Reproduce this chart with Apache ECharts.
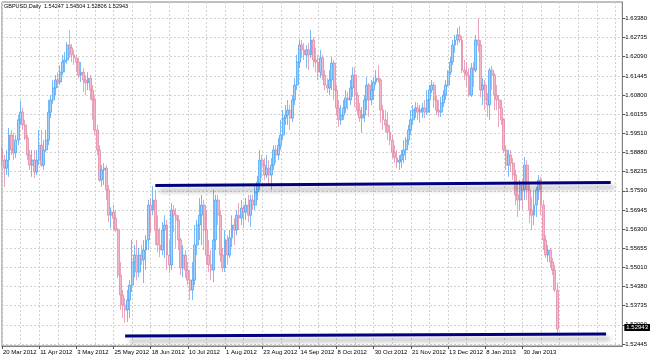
<!DOCTYPE html>
<html><head><meta charset="utf-8">
<script src="https://cdn.jsdelivr.net/npm/echarts@6/dist/echarts.min.js"></script>
<style>html,body{margin:0;padding:0;background:#fff}#c{width:650px;height:357px}</style>
</head><body><div id="c"></div>
<script>
const symbolName = 'GBPUSD,Daily';
const startDate = '2012-03-20';
const holidays = ['2012-12-25', '2013-01-01'];
const categoryCount = 268;

const open = [
1.5896,1.5862,1.5835,1.5862,1.5946,1.5896,1.5886,1.5929,1.5997,1.6023,
1.5980,1.5936,1.5879,1.5845,1.5862,1.5822,1.5862,1.5912,1.5845,1.5896,
1.5929,1.6023,1.6064,1.6104,1.6131,1.6124,1.6157,1.6191,1.6198,1.6248,
1.6239,1.6215,1.6205,1.6191,1.6147,1.6157,1.6131,1.6121,1.6137,1.6097,
1.6064,1.5963,1.5896,1.5795,1.5829,1.5835,1.5762,1.5677,1.5687,1.5667,
1.5627,1.5476,1.5409,1.5375,1.5359,1.5392,1.5442,1.5520,1.5543,1.5486,
1.5543,1.5527,1.5560,1.5594,1.5711,1.5694,1.5728,1.5627,1.5577,1.5560,
1.5627,1.5644,1.5543,1.5510,1.5694,1.5677,1.5661,1.5594,1.5500,1.5543,
1.5493,1.5459,1.5426,1.5459,1.5577,1.5644,1.5677,1.5711,1.5627,1.5543,
1.5510,1.5493,1.5594,1.5728,1.5677,1.5543,1.5500,1.5594,1.5543,1.5601,
1.5644,1.5627,1.5677,1.5667,1.5701,1.5687,1.5711,1.5677,1.5728,1.5711,
1.5755,1.5788,1.5862,1.5845,1.5812,1.5835,1.5812,1.5845,1.5896,1.5879,
1.5912,1.5946,1.6003,1.6013,1.6030,1.6003,1.6064,1.6114,1.6191,1.6248,
1.6232,1.6215,1.6232,1.6215,1.6265,1.6198,1.6191,1.6157,1.6205,1.6147,
1.6114,1.6104,1.6131,1.6188,1.6097,1.6037,1.5997,1.6013,1.6037,1.6070,
1.6064,1.6104,1.6147,1.6080,1.6030,1.6003,1.6013,1.6064,1.6114,1.6064,
1.6097,1.6124,1.6137,1.6131,1.6030,1.5997,1.5980,1.5956,1.5929,1.5889,
1.5869,1.5855,1.5862,1.5879,1.5896,1.5929,1.5963,1.5997,1.6030,1.6037,
1.6023,1.6030,1.6037,1.6023,1.6064,1.6097,1.6114,1.6064,1.6030,1.6023,
1.6054,1.6080,1.6114,1.6157,1.6191,1.6248,1.6265,1.6282,1.6265,1.6164,
1.6157,1.6147,1.6080,1.6171,1.6164,1.6265,1.6248,1.6097,1.6114,1.6064,
1.6047,1.6164,1.6147,1.6080,1.6064,1.6037,1.5997,1.5896,1.5845,1.5879,
1.5852,1.5812,1.5745,1.5728,1.5778,1.5762,1.5845,1.5762,1.5694,1.5677,
1.5711,1.5762,1.5795,1.5711,1.5594,1.5543,1.5560,1.5520,1.5493,1.54247
];
const high = [
1.5906,1.5879,1.5896,1.5970,1.5963,1.5953,1.5946,1.6013,1.6061,1.6037,
1.5997,1.5946,1.5896,1.5896,1.5896,1.5896,1.5963,1.5963,1.5929,1.5963,
1.6064,1.6080,1.6131,1.6147,1.6157,1.6181,1.6215,1.6225,1.6258,1.6299,
1.6252,1.6232,1.6215,1.6205,1.6191,1.6171,1.6147,1.6157,1.6147,1.6114,
1.6080,1.5980,1.5912,1.5845,1.5852,1.5845,1.5778,1.5704,1.5711,1.5694,
1.5634,1.5520,1.5426,1.5399,1.5426,1.5459,1.5594,1.5577,1.5594,1.5567,
1.5577,1.5594,1.5610,1.5728,1.5735,1.5775,1.5762,1.5677,1.5634,1.5654,
1.5677,1.5661,1.5594,1.5718,1.5711,1.5701,1.5677,1.5601,1.5577,1.5560,
1.5520,1.5493,1.5520,1.5644,1.5661,1.5735,1.5745,1.5728,1.5694,1.5594,
1.5560,1.5762,1.5745,1.5745,1.5694,1.5567,1.5627,1.5610,1.5627,1.5677,
1.5667,1.5694,1.5718,1.5728,1.5711,1.5735,1.5745,1.5745,1.5745,1.5778,
1.5809,1.5896,1.5879,1.5869,1.5879,1.5862,1.5869,1.5912,1.5912,1.5936,
1.5997,1.6030,1.6047,1.6064,1.6047,1.6080,1.6137,1.6215,1.6265,1.6265,
1.6255,1.6248,1.6255,1.6299,1.6275,1.6238,1.6215,1.6232,1.6215,1.6164,
1.6137,1.6164,1.6208,1.6198,1.6114,1.6064,1.6047,1.6064,1.6097,1.6090,
1.6131,1.6174,1.6174,1.6090,1.6054,1.6040,1.6080,1.6141,1.6121,1.6131,
1.6141,1.6164,1.6181,1.6137,1.6047,1.6030,1.6023,1.5980,1.5946,1.5912,
1.5896,1.5879,1.5896,1.5929,1.5939,1.5980,1.6030,1.6047,1.6057,1.6054,
1.6047,1.6054,1.6064,1.6097,1.6114,1.6131,1.6124,1.6080,1.6064,1.6074,
1.6097,1.6131,1.6164,1.6208,1.6265,1.6282,1.6305,1.6312,1.6279,1.6198,
1.6191,1.6171,1.6188,1.6191,1.6282,1.6339,1.6265,1.6137,1.6131,1.6087,
1.6171,1.6178,1.6154,1.6114,1.6080,1.6064,1.6003,1.5912,1.5896,1.5896,
1.5869,1.5829,1.5785,1.5795,1.5795,1.5872,1.5862,1.5785,1.5738,1.5762,
1.5772,1.5812,1.5806,1.5728,1.5610,1.5577,1.5567,1.5533,1.5510,1.54504
];
const low = [
1.5845,1.5772,1.5812,1.5806,1.5879,1.5862,1.5869,1.5912,1.5980,1.5963,
1.5929,1.5862,1.5829,1.5806,1.5802,1.5812,1.5845,1.5839,1.5829,1.5889,
1.5912,1.6003,1.6051,1.6080,1.6104,1.6114,1.6147,1.6157,1.6185,1.6205,
1.6191,1.6181,1.6157,1.6137,1.6124,1.6090,1.6080,1.6097,1.6064,1.5997,
1.5946,1.5879,1.5788,1.5772,1.5778,1.5728,1.5654,1.5634,1.5627,1.5620,
1.5466,1.5359,1.5332,1.5315,1.5318,1.5332,1.5419,1.5469,1.5459,1.5469,
1.5510,1.5449,1.5493,1.5560,1.5617,1.5677,1.5577,1.5553,1.5536,1.5543,
1.5533,1.5493,1.5483,1.5493,1.5620,1.5567,1.5560,1.5476,1.5469,1.5466,
1.5442,1.5392,1.5392,1.5442,1.5543,1.5594,1.5577,1.5560,1.5510,1.5486,
1.5459,1.5452,1.5560,1.5644,1.5520,1.5486,1.5486,1.5510,1.5533,1.5570,
1.5577,1.5610,1.5627,1.5644,1.5634,1.5661,1.5654,1.5638,1.5694,1.5694,
1.5728,1.5762,1.5802,1.5795,1.5802,1.5778,1.5762,1.5829,1.5852,1.5862,
1.5896,1.5929,1.5980,1.5980,1.5963,1.5990,1.6047,1.6097,1.6171,1.6205,
1.6198,1.6171,1.6164,1.6205,1.6174,1.6157,1.6131,1.6137,1.6131,1.6097,
1.6087,1.6080,1.6097,1.6064,1.6013,1.5973,1.5980,1.5997,1.6020,1.6030,
1.6047,1.6074,1.6040,1.6013,1.5990,1.5953,1.5990,1.6030,1.6007,1.6047,
1.6064,1.6114,1.6121,1.5987,1.5963,1.5953,1.5929,1.5912,1.5869,1.5852,
1.5835,1.5829,1.5835,1.5852,1.5862,1.5912,1.5946,1.5980,1.6003,1.5997,
1.5987,1.6003,1.6003,1.6013,1.6020,1.6087,1.6037,1.6013,1.6007,1.6007,
1.6040,1.6064,1.6108,1.6147,1.6181,1.6222,1.6248,1.6255,1.6154,1.6131,
1.6108,1.6074,1.6074,1.6108,1.6157,1.6225,1.6074,1.6047,1.6030,1.6007,
1.5997,1.6097,1.6030,1.6030,1.5973,1.5980,1.5886,1.5829,1.5806,1.5822,
1.5795,1.5711,1.5671,1.5694,1.5694,1.5728,1.5728,1.5651,1.5627,1.5644,
1.5671,1.5728,1.5677,1.5560,1.5533,1.5520,1.5500,1.5476,1.5419,1.52806
];
const close = [
1.5862,1.5835,1.5862,1.5946,1.5896,1.5886,1.5929,1.5997,1.6023,1.5980,
1.5936,1.5879,1.5845,1.5862,1.5822,1.5862,1.5912,1.5845,1.5896,1.5929,
1.6023,1.6064,1.6104,1.6131,1.6124,1.6157,1.6191,1.6198,1.6248,1.6239,
1.6215,1.6205,1.6191,1.6147,1.6157,1.6131,1.6121,1.6137,1.6097,1.6064,
1.5963,1.5896,1.5795,1.5829,1.5835,1.5762,1.5677,1.5687,1.5667,1.5627,
1.5476,1.5409,1.5375,1.5359,1.5392,1.5442,1.5520,1.5543,1.5486,1.5543,
1.5527,1.5560,1.5594,1.5711,1.5694,1.5728,1.5627,1.5577,1.5560,1.5627,
1.5644,1.5543,1.5510,1.5694,1.5677,1.5661,1.5594,1.5500,1.5543,1.5493,
1.5459,1.5426,1.5459,1.5577,1.5644,1.5677,1.5711,1.5627,1.5543,1.5510,
1.5493,1.5594,1.5728,1.5677,1.5543,1.5500,1.5594,1.5543,1.5601,1.5644,
1.5627,1.5677,1.5667,1.5701,1.5687,1.5711,1.5677,1.5728,1.5711,1.5755,
1.5788,1.5862,1.5845,1.5812,1.5835,1.5812,1.5845,1.5896,1.5879,1.5912,
1.5946,1.6003,1.6013,1.6030,1.6003,1.6064,1.6114,1.6191,1.6248,1.6232,
1.6215,1.6232,1.6215,1.6265,1.6198,1.6191,1.6157,1.6205,1.6147,1.6114,
1.6104,1.6131,1.6188,1.6097,1.6037,1.5997,1.6013,1.6037,1.6070,1.6064,
1.6104,1.6147,1.6080,1.6030,1.6003,1.6013,1.6064,1.6114,1.6064,1.6097,
1.6124,1.6137,1.6131,1.6030,1.5997,1.5980,1.5956,1.5929,1.5889,1.5869,
1.5855,1.5862,1.5879,1.5896,1.5929,1.5963,1.5997,1.6030,1.6037,1.6023,
1.6030,1.6037,1.6023,1.6064,1.6097,1.6114,1.6064,1.6030,1.6023,1.6054,
1.6080,1.6114,1.6157,1.6191,1.6248,1.6265,1.6282,1.6265,1.6164,1.6157,
1.6147,1.6080,1.6171,1.6164,1.6265,1.6248,1.6097,1.6114,1.6064,1.6047,
1.6164,1.6147,1.6080,1.6064,1.6037,1.5997,1.5896,1.5845,1.5879,1.5852,
1.5812,1.5745,1.5728,1.5778,1.5762,1.5845,1.5762,1.5694,1.5677,1.5711,
1.5762,1.5795,1.5711,1.5594,1.5543,1.5560,1.5520,1.5493,1.5426,1.52943
];

const yTicks = [1.63380,1.62735,1.62090,1.61445,1.60800,1.60155,1.59510,1.58880,1.58235,
                1.57590,1.56945,1.56300,1.55655,1.55010,1.54380,1.53735,1.53090,1.52445];
const xTickLabels = ['20 Mar 2012','11 Apr 2012','3 May 2012','25 May 2012','18 Jun 2012','10 Jul 2012',
  '1 Aug 2012','23 Aug 2012','14 Sep 2012','8 Oct 2012','30 Oct 2012','21 Nov 2012','13 Dec 2012',
  '8 Jan 2013','30 Jan 2013'];
const yMin = 1.52379, yMax = 1.63927;
const resistanceLine = [[66, 1.57767], [262, 1.57868]];
const supportLine = [[53, 1.52715], [260, 1.52782]];

const MONTHS = ['Jan','Feb','Mar','Apr','May','Jun','Jul','Aug','Sep','Oct','Nov','Dec'];
const dates = [];
(function () {
  const d = new Date(startDate + 'T00:00:00Z');
  while (dates.length < categoryCount) {
    const iso = d.toISOString().slice(0, 10);
    const wd = d.getUTCDay();
    if (wd !== 0 && wd !== 6 && holidays.indexOf(iso) < 0) {
      dates.push(d.getUTCDate() + ' ' + MONTHS[d.getUTCMonth()] + ' ' + d.getUTCFullYear());
    }
    d.setUTCDate(d.getUTCDate() + 1);
  }
})();

const candles = open.map((o, i) => [o, close[i], low[i], high[i]]);
const last = open.length - 1;
const lastPrice = close[last];
const titleText = symbolName + '  ' + [open[last], high[last], low[last], close[last]].map(v => v.toFixed(5)).join(' ');

const FONT = 'Liberation Sans';
const isTick = (i, v) => xTickLabels.indexOf(v) >= 0;
const gridLine = { color: '#d2d2d2', type: [2, 2], width: 1 };

const chart = echarts.init(document.getElementById('c'), null, { renderer: 'canvas' });
chart.setOption({
  animation: false,
  backgroundColor: '#ffffff',
  grid: { left: 2, right: 26, top: 2, bottom: 11, show: true, borderColor: '#808080', borderWidth: 1, backgroundColor: '#fff' },
  graphic: [{
    type: 'text', left: 4, top: 3, z: 100,
    style: { text: titleText, fontSize: 5.5, fontFamily: FONT, fill: '#000' }
  }],
  xAxis: {
    type: 'category', data: dates, boundaryGap: false,
    axisLine: { show: true, lineStyle: { color: '#808080', width: 1 } },
    axisTick: { show: true, interval: isTick, length: 3, lineStyle: { color: '#555' } },
    axisLabel: { interval: isTick, fontSize: 6, fontFamily: FONT, color: '#000', align: 'left', margin: 3, padding: [0, 0, 0, 1] },
    splitLine: { show: true, interval: (i) => i % 8 === 0, lineStyle: gridLine }
  },
  yAxis: {
    type: 'value', position: 'right', min: yMin, max: yMax, scale: true,
    axisLine: { show: true, lineStyle: { color: '#808080', width: 1 } },
    axisTick: { show: true, customValues: yTicks, length: 3, lineStyle: { color: '#555' } },
    axisLabel: { customValues: yTicks, formatter: v => v.toFixed(5), fontSize: 6, fontFamily: FONT, color: '#000', margin: 3 },
    splitLine: { show: true, lineStyle: gridLine }
  },
  series: [
    {
      type: 'candlestick', data: candles, barWidth: 2.4,
      itemStyle: { color: '#a3d1fb', color0: '#f3b9c8', borderColor: '#3f9ef5', borderColor0: '#e0809f', borderWidth: 0.7 },
      markLine: {
        symbol: 'none', silent: true, animation: false,
        data: [{ yAxis: lastPrice }],
        lineStyle: { color: 'rgba(0,0,0,0)', width: 0 },
        label: { show: true, position: 'end', formatter: lastPrice.toFixed(5), backgroundColor: '#000000', color: '#ffffff',
                 fontSize: 6, fontFamily: FONT, padding: [1, 2, 0, 2], distance: 2 }
      }
    },
    {
      type: 'line', data: resistanceLine, showSymbol: false, symbol: 'none', silent: true, z: 5,
      lineStyle: { color: '#000080', width: 3, shadowColor: 'rgba(0,0,0,0.3)', shadowBlur: 4, shadowOffsetX: 4, shadowOffsetY: 5 }
    },
    {
      type: 'line', data: supportLine, showSymbol: false, symbol: 'none', silent: true, z: 5,
      lineStyle: { color: '#000080', width: 3, shadowColor: 'rgba(0,0,0,0.3)', shadowBlur: 4, shadowOffsetX: 4, shadowOffsetY: 5 }
    }
  ]
});
</script></body></html>
